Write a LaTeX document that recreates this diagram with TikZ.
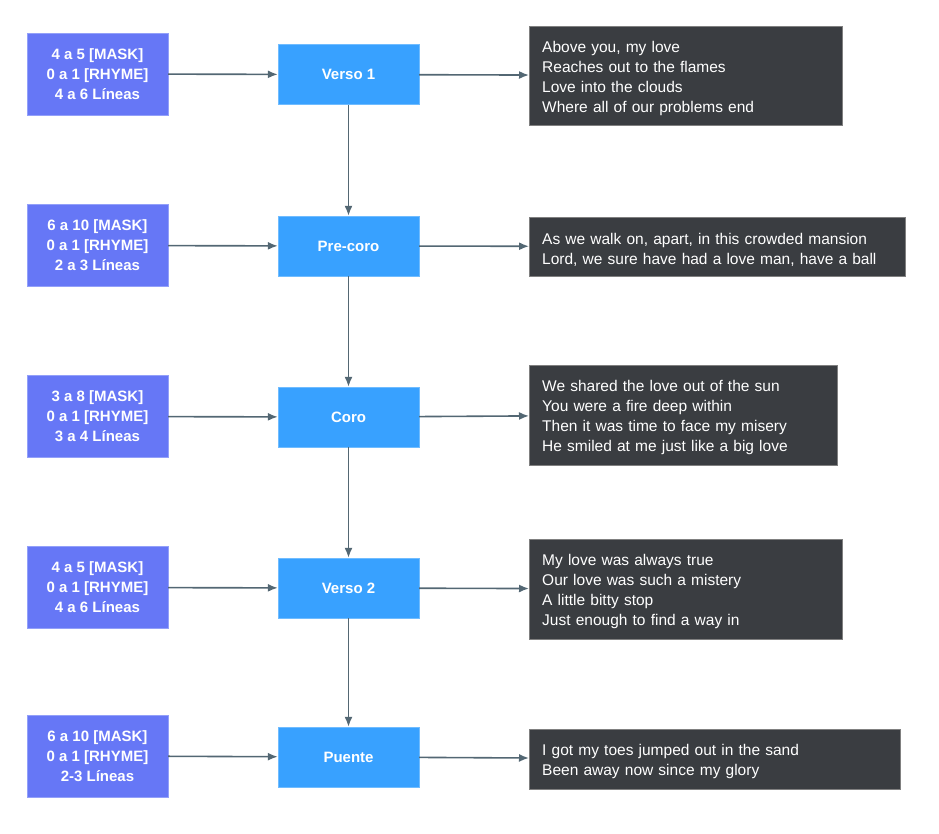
\documentclass[tikz,border=0pt]{standalone}
\usepackage{fontspec}
\setmainfont{Liberation Sans}
\usetikzlibrary{arrows.meta}
\definecolor{reglas}{HTML}{6677F6}
\definecolor{reglasborde}{HTML}{93A0F9}
\definecolor{seccion}{HTML}{38A1FF}
\definecolor{seccionborde}{HTML}{70BCFF}
\definecolor{letra}{HTML}{3A3D41}
\definecolor{letraborde}{HTML}{808080}
\definecolor{flecha}{HTML}{536773}
\begin{document}
\begin{tikzpicture}
				[x=1pt,y=-1pt,
				reglabox/.style={draw=reglasborde, fill=reglas, text=white,
				minimum width=141pt, minimum height=82pt, inner sep=0pt,
				align=center, font=\fontsize{15}{20}\selectfont\bfseries,
				execute at begin node={\rule{0pt}{19pt}}},
				seccionbox/.style={draw=seccionborde, fill=seccion, text=white,
				minimum width=141pt, minimum height=60pt, inner sep=0pt,
				font=\fontsize{15}{20}\selectfont\bfseries},
				letrabox/.style={draw=letraborde, fill=letra, text=white,
				anchor=west, inner xsep=13pt, inner ysep=0pt, align=left,
				font=\fontsize{15.5}{20}\selectfont,
				execute at begin node={\rule{0pt}{17pt}}},
				conector/.style={draw=flecha, line width=1.6pt,
				-{Latex[length=10pt,width=8pt]}}]
				\useasboundingbox (0,0) rectangle (939,833);

				\node[reglabox] (m1) at (97.5,74)  {4 a 5 [MASK]\\0 a 1 [RHYME]\\4 a 6 Líneas};
				\node[reglabox] (m2) at (97.5,245.5) {6 a 10 [MASK]\\0 a 1 [RHYME]\\2 a 3 Líneas};
				\node[reglabox] (m3) at (97.5,416.5) {3 a 8 [MASK]\\0 a 1 [RHYME]\\3 a 4 Líneas};
				\node[reglabox] (m4) at (97.5,587.5) {4 a 5 [MASK]\\0 a 1 [RHYME]\\4 a 6 Líneas};
				\node[reglabox] (m5) at (97.5,756) {6 a 10 [MASK]\\0 a 1 [RHYME]\\2-3 Líneas};

				\node[seccionbox] (s1) at (348.5,74.5) {Verso 1};
				\node[seccionbox] (s2) at (348.5,246) {Pre-coro};
				\node[seccionbox] (s3) at (348.5,417) {Coro};
				\node[seccionbox] (s4) at (348.5,588) {Verso 2};
				\node[seccionbox] (s5) at (348.5,757) {Puente};

				\node[letrabox, text width=287pt, minimum height=99pt] (l1) at (529,75.5)
				{Above you, my love\\Reaches out to the flames\\Love into the clouds\\Where all of our problems end};
				\node[letrabox, text width=350pt, minimum height=59pt] (l2) at (529,246.5)
				{As we walk on, apart, in this crowded mansion\\Lord, we sure have had a love man, have a ball};
				\node[letrabox, text width=282pt, minimum height=100pt] (l3) at (529,415)
				{We shared the love out of the sun\\You were a fire deep within\\Then it was time to face my misery\\He smiled at me just like a big love};
				\node[letrabox, text width=287pt, minimum height=100pt] (l4) at (529,589)
				{My love was always true\\Our love was such a mistery\\A little bitty stop\\Just enough to find a way in};
				\node[letrabox, text width=345pt, minimum height=60pt] (l5) at (529,759)
				{I got my toes jumped out in the sand\\Been away now since my glory};

				\foreach \from/\to in {m1/s1,m2/s2,m3/s3,m4/s4,m5/s5,
				s1/l1,s2/l2,s3/l3,s4/l4,s5/l5,
				s1/s2,s2/s3,s3/s4,s4/s5}
				\draw[conector] (\from) -- (\to);
			\end{tikzpicture}
\end{document}
